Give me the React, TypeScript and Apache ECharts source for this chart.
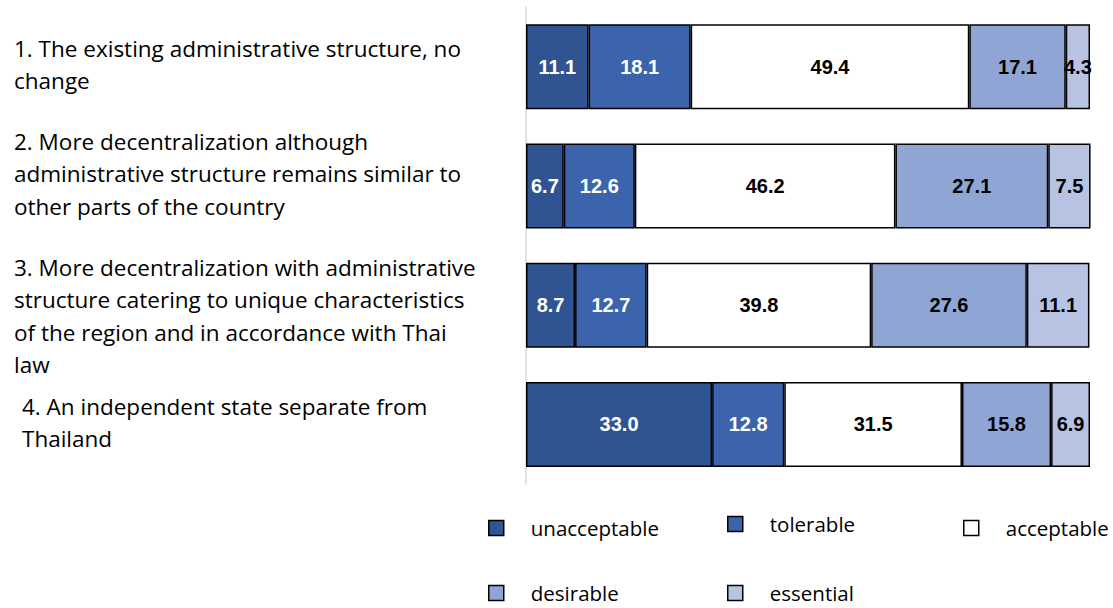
import React, { useEffect, useRef } from "react";
import * as echarts from "echarts";

// Policy options (rows, top to bottom)
const categories = [
  "1. The existing administrative structure, no\nchange",
  "2. More decentralization although\nadministrative structure remains similar to\nother parts of the country",
  "3. More decentralization with administrative\nstructure catering to unique characteristics\nof the region and in accordance with Thai\nlaw",
  "4. An independent state separate from\nThailand",
];

// Response shares (%) per option
const unacceptable = [11.1, 6.7, 8.7, 33.0];
const tolerable = [18.1, 12.6, 12.7, 12.8];
const acceptable = [49.4, 46.2, 39.8, 31.5];
const desirable = [17.1, 27.1, 27.6, 15.8];
const essential = [4.3, 7.5, 11.1, 6.9];

const seriesNames = ["unacceptable", "tolerable", "acceptable", "desirable", "essential"];
const seriesData = [unacceptable, tolerable, acceptable, desirable, essential];
const seriesColors = ["#2F5491", "#3C64AC", "#FFFFFF", "#8FA5D4", "#B8C2E2"];
const labelColors = ["#FFFFFF", "#FFFFFF", "#000000", "#000000", "#000000"];

// Vertical nudges for the row labels: spacer line heights above / below the text
const spacerTop = [0, 0, 22, 0];
const spacerBottom = [4, 24, 0, 4];
// Extra left indent per row label
const indentLeft = [0, 0, 0, 8];

// Legend placement: two rows
const legendSlots = [
  { left: 488, top: 516 },
  { left: 727, top: 512 },
  { left: 963, top: 516 },
  { left: 488, top: 581 },
  { left: 727, top: 581 },
];

export default function App() {
  const ref = useRef<HTMLDivElement>(null);

  useEffect(() => {
    if (!ref.current) return;
    const chart = echarts.init(ref.current, null, { renderer: "svg" });

    const textFont = "'Open Sans', 'Noto Sans', sans-serif";
    const catLabelStyle = {
      align: "left",
      verticalAlign: "middle",
      fontSize: 22.5,
      lineHeight: 32.5,
      color: "#000000",
      fontFamily: textFont,
    };

    const spacerRich: Record<string, any> = {};
    [...spacerTop, ...spacerBottom].forEach((h) => {
      if (h > 0) spacerRich["s" + h] = { lineHeight: h, fontSize: 1, height: h };
    });

    chart.setOption({
      animation: false,
      backgroundColor: "#FFFFFF",
      grid: {
        left: 526,
        right: 23,
        top: 7,
        bottom: 124,
        containLabel: false,
        outerBoundsMode: "none",
      },
      xAxis: {
        type: "value",
        min: 0,
        max: 100,
        show: false,
      },
      yAxis: {
        type: "category",
        inverse: true,
        data: categories.map((c, i) => ({
          value: c,
          textStyle: { ...catLabelStyle, padding: [0, 0, 0, indentLeft[i]] },
        })),
        axisLine: { show: true, lineStyle: { color: "#D9D9D9", width: 1.5 } },
        axisTick: { show: false },
        splitLine: { show: false },
        axisLabel: {
          ...catLabelStyle,
          margin: 512,
          rich: spacerRich,
          formatter: (value: string, index: number) => {
            let s = value;
            if (spacerTop[index] > 0) s = `{s${spacerTop[index]}| }\n` + s;
            if (spacerBottom[index] > 0) s = s + `\n{s${spacerBottom[index]}| }`;
            return s;
          },
        },
      },
      legend: seriesNames.map((name, i) => ({
        data: [name],
        left: legendSlots[i].left,
        top: legendSlots[i].top,
        padding: 0,
        itemWidth: 15,
        itemHeight: 15,
        icon: "rect",
        selectedMode: false,
        itemStyle: { borderColor: "#000000", borderWidth: 1.5 },
        textStyle: {
          fontSize: 20.5,
          lineHeight: 24,
          color: "#000000",
          fontFamily: textFont,
          padding: [0, 0, 0, 22],
        },
      })),
      series: seriesNames.map((name, i) => ({
        name,
        type: "bar",
        stack: "total",
        barWidth: 85,
        clip: false,
        data: seriesData[i],
        itemStyle: {
          color: seriesColors[i],
          borderColor: "#000000",
          borderWidth: 1.5,
        },
        label: {
          show: true,
          position: "inside",
          color: labelColors[i],
          fontSize: 20,
          fontWeight: "bold",
          fontFamily: "'Liberation Sans', Arial, sans-serif",
          formatter: (p: any) => Number(p.value).toFixed(1),
        },
      })),
    });

    return () => chart.dispose();
  }, []);

  return (
    <div
      ref={ref}
      style={{ position: "absolute", left: 0, top: 0, width: 1113, height: 608 }}
    />
  );
}
